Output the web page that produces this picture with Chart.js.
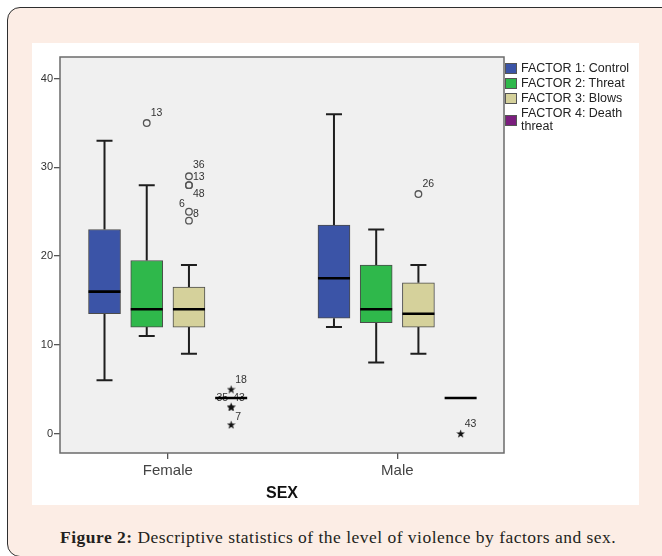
<!DOCTYPE html>
<html>
<head>
<meta charset="utf-8">
<script src="https://cdn.jsdelivr.net/npm/chart.js@4.4.1/dist/chart.umd.min.js"></script>
<style>
  html, body { margin: 0; padding: 0; }
  body { width: 662px; height: 556px; overflow: hidden; background: #fff; position: relative; }
  .frame {
    position: absolute; left: 7px; top: 7px; width: 720px; height: 548px;
    border: 1.5px solid #2e2e2e; border-radius: 13px; background: #fcede5;
  }
  .panel { position: absolute; left: 32px; top: 43px; width: 607px; height: 462px; background: #fff; }
  #chart { position: absolute; left: 0; top: 0; }
  .legend {
    position: absolute; left: 473px; top: 18.5px; width: 134px;
    font: 12.5px 'Liberation Sans', Arial, sans-serif; color: #222; line-height: 13px;
  }
  .legend .item { display: flex; align-items: center; margin-bottom: 2.3px; }
  .legend .sw { width: 10px; height: 9px; border: 1px solid #555; margin-right: 4px; flex: none; }
  .legend .txt { width: 118px; }
  .caption {
    position: absolute; left: 60px; top: 527px; white-space: nowrap; letter-spacing: 0.48px;
    font: 17.5px 'Liberation Serif', 'Times New Roman', serif; color: #231f20; line-height: 20px;
  }
</style>
</head>
<body>
<div class="frame"></div>
<div class="panel">
  <canvas id="chart" width="607" height="462"></canvas>
  <div class="legend" id="legend"></div>
</div>
<div class="caption"><b>Figure 2:</b> Descriptive statistics of the level of violence by factors and sex.</div>

<script>
/* ── datos del boxplot ─────────────────────────────────────────────── */
const groups  = ['Female', 'Male'];
const factors = ['FACTOR 1: Control', 'FACTOR 2: Threat', 'FACTOR 3: Blows', 'FACTOR 4: Death threat'];

// por factor: [Female, Male]
const lowWhisker  = [[6, 12],    [11, 8],    [9, 9],      [4, 4]];
const q1          = [[13.5, 13], [12, 12.5], [12, 12],    [4, 4]];
const median      = [[16, 17.5], [14, 14],   [14, 13.5],  [4, 4]];
const q3          = [[23, 23.5], [19.5, 19], [16.5, 17],  [4, 4]];
const highWhisker = [[33, 36],   [28, 23],   [19, 19],    [4, 4]];

// atípicos: [factor, grupo, valor, caso]
const mildOutliers = [
  [1, 0, 35, '13'],
  [2, 0, 29, '13'],
  [2, 0, 28, '36'],
  [2, 0, 28, '48'],
  [2, 0, 25, '8'],
  [2, 0, 24, '6'],
  [2, 1, 27, '26'],
];
const extremeOutliers = [
  [3, 0, 5, '18'],
  [3, 0, 3, '35'],
  [3, 0, 3, '43'],
  [3, 0, 1, '7'],
  [3, 1, 0, '43'],
];

const yTicks = [0, 10, 20, 30, 40];
const xTicks = [1, 2];

/* ── estilo ────────────────────────────────────────────────────────── */
const colors = ['#3b54a7', '#2fb84b', '#d5d19b', '#7b1e7e'];
const factorOffsets = [-0.276, -0.092, 0.092, 0.276];
// colocación de etiquetas de casos, en px: [dx, dy, align]
const mildPlace = [[4, -10, 'left'], [4, 1, 'left'], [4, -20, 'left'], [4, 9, 'left'], [4, 2, 'left'], [-4, -17, 'right'], [4, -10, 'left']];
const extremePlace = [[4, -9, 'left'], [-3, -9, 'right'], [2, -9, 'left'], [4, -8, 'left'], [4, -9, 'left']];
const FONT = "'Liberation Sans', Arial, sans-serif";

function makeStar(size) {
  const c = document.createElement('canvas');
  c.width = c.height = size;
  const g = c.getContext('2d');
  g.beginPath();
  for (let i = 0; i < 10; i++) {
    const r = i % 2 ? size * 0.2 : size * 0.5;
    const a = -Math.PI / 2 + i * Math.PI / 5;
    const px = size / 2 + r * Math.cos(a), py = size / 2 + 0.5 + r * Math.sin(a);
    i ? g.lineTo(px, py) : g.moveTo(px, py);
  }
  g.closePath();
  g.fillStyle = '#111';
  g.fill();
  return c;
}

const xOf = (f, g) => g + 1 + factorOffsets[f];

/* ── datasets ──────────────────────────────────────────────────────── */
const boxSets = factors.map((name, i) => ({
  type: 'bar',
  label: name,
  data: groups.map((g, j) => ({ x: xOf(i, j), y: [q1[i][j], q3[i][j]] })),
  backgroundColor: colors[i],
  borderColor: '#4b4b4b',
  borderWidth: 1,
  borderSkipped: false,
  barThickness: 32,
  grouped: false,
}));

const mildSet = {
  type: 'scatter',
  label: 'outliers',
  data: mildOutliers.map(o => ({ x: xOf(o[0], o[1]), y: o[2] })),
  pointStyle: 'circle',
  pointRadius: 3.3,
  backgroundColor: 'rgba(0,0,0,0)',
  borderColor: '#555',
  borderWidth: 1.3,
};
const extremeSet = {
  type: 'scatter',
  label: 'extremes',
  data: extremeOutliers.map(o => ({ x: xOf(o[0], o[1]), y: o[2] })),
  pointStyle: makeStar(9),
  pointRadius: 4.5,
};

/* ── plugin: fondo, bigotes, medianas, etiquetas ───────────────────── */
const boxParts = {
  id: 'boxParts',
  beforeDraw(chart) {
    const { ctx, chartArea: a } = chart;
    ctx.save();
    ctx.fillStyle = '#f0f0f0';
    ctx.fillRect(a.left, a.top, a.right - a.left, a.bottom - a.top);
    ctx.restore();
  },
  beforeDatasetsDraw(chart) {
    const { ctx, scales: { x, y } } = chart;
    ctx.save();
    ctx.strokeStyle = '#1e1e1e';
    ctx.lineWidth = 2;
    factors.forEach((f, i) => groups.forEach((g, j) => {
      const px = x.getPixelForValue(xOf(i, j));
      const lo = y.getPixelForValue(lowWhisker[i][j]), hi = y.getPixelForValue(highWhisker[i][j]);
      const b1 = y.getPixelForValue(q1[i][j]), b3 = y.getPixelForValue(q3[i][j]);
      ctx.beginPath();
      ctx.moveTo(px, lo); ctx.lineTo(px, b1);
      ctx.moveTo(px, b3); ctx.lineTo(px, hi);
      if (lo !== b1) { ctx.moveTo(px - 8, lo); ctx.lineTo(px + 8, lo); }
      if (hi !== b3) { ctx.moveTo(px - 8, hi); ctx.lineTo(px + 8, hi); }
      ctx.stroke();
    }));
    ctx.restore();
  },
  afterDatasetsDraw(chart) {
    const { ctx, scales: { x, y } } = chart;
    ctx.save();
    // etiquetas de casos
    ctx.font = '10.5px ' + FONT;
    ctx.fillStyle = '#333';
    ctx.textBaseline = 'middle';
    const label = (list, place) => list.forEach((o, k) => {
      const px = x.getPixelForValue(xOf(o[0], o[1])), py = y.getPixelForValue(o[2]);
      ctx.textAlign = place[k][2];
      ctx.fillText(o[3], px + place[k][0], py + place[k][1]);
    });
    label(mildOutliers, mildPlace);
    label(extremeOutliers, extremePlace);
    // medianas
    ctx.strokeStyle = '#000';
    ctx.lineWidth = 2.6;
    factors.forEach((f, i) => groups.forEach((g, j) => {
      const px = x.getPixelForValue(xOf(i, j)), py = y.getPixelForValue(median[i][j]);
      ctx.beginPath();
      ctx.moveTo(px - 16, py); ctx.lineTo(px + 16, py);
      ctx.stroke();
    }));
    ctx.restore();
  },
  afterDraw(chart) {
    const { ctx, chartArea: a } = chart;
    ctx.save();
    ctx.strokeStyle = '#6b6b6b';
    ctx.lineWidth = 1.5;
    ctx.strokeRect(a.left, a.top, a.right - a.left, a.bottom - a.top);
    ctx.restore();
  },
};

/* ── gráfico ───────────────────────────────────────────────────────── */
new Chart(document.getElementById('chart').getContext('2d'), {
  type: 'bar',
  data: { datasets: [...boxSets, mildSet, extremeSet] },
  plugins: [boxParts],
  options: {
    responsive: false,
    animation: false,
    layout: { padding: { top: 14, right: 135, left: 0, bottom: 0 } },
    plugins: { legend: { display: false }, tooltip: { enabled: false } },
    scales: {
      x: {
        type: 'linear',
        min: 0.53,
        max: 2.465,
        offset: false,
        afterFit: (s) => { s.height = 52; },
        afterBuildTicks: (s) => { s.ticks = xTicks.map(v => ({ value: v })); },
        grid: { display: true, offset: false, drawOnChartArea: false, drawTicks: true, tickLength: 6, color: '#555', lineWidth: 1.3 },
        border: { display: false },
        ticks: {
          padding: 3, color: '#444', font: { family: FONT, size: 15 },
          callback: (v) => groups[v - 1] || '',
        },
        title: { display: true, text: 'SEX', color: '#111', font: { family: FONT, size: 16, weight: 'bold' }, padding: { top: 0, bottom: 1.5 } },
      },
      y: {
        min: -2.2,
        max: 42.45,
        afterFit: (s) => { s.width = 28; },
        afterBuildTicks: (s) => { s.ticks = yTicks.map(v => ({ value: v })); },
        grid: { display: true, drawOnChartArea: false, drawTicks: true, tickLength: 6, color: '#555', lineWidth: 1.3 },
        border: { display: false },
        ticks: { padding: 1, color: '#333', font: { family: FONT, size: 11 } },
      },
    },
  },
});

/* ── leyenda HTML ──────────────────────────────────────────────────── */
document.getElementById('legend').innerHTML = factors.map((f, i) =>
  `<div class="item"><span class="sw" style="background:${colors[i]}"></span><span class="txt">${f}</span></div>`
).join('');
</script>
</body>
</html>
